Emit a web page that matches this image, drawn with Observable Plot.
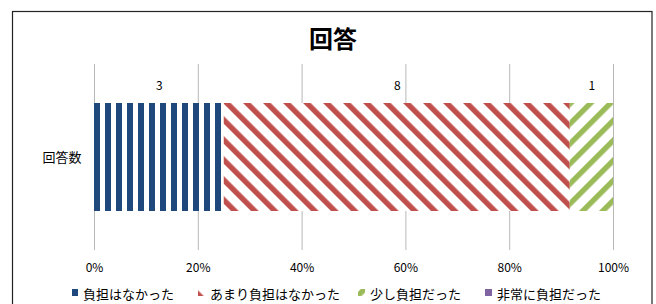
<!DOCTYPE html>
<html><head><meta charset="utf-8">
<script src="https://cdn.jsdelivr.net/npm/d3@7"></script>
<script src="https://cdn.jsdelivr.net/npm/@observablehq/plot@0.6"></script>
<style>
body{margin:0;background:#fff}
#chart{position:relative;width:656px;height:304px;overflow:hidden}
</style>
</head><body><div id="chart"></div>
<script>
const title = "回答";
const rowLabel = "回答数";
const categories = ["負担はなかった", "あまり負担はなかった", "少し負担だった", "非常に負担だった"];
const counts = [3, 8, 1, 0];
const xTicks = [0, 0.2, 0.4, 0.6, 0.8, 1];
const colors = ["#1F497D", "#C0504D", "#9BBB59", "#8064A2"];
const patternIds = ["pat-blue", "pat-red", "pat-green", "pat-purple"];

const FONT = "'Noto Sans CJK JP', 'Noto Sans', sans-serif";
const total = d3.sum(counts);
let acc = 0;
const rows = categories.map((c, i) => {
  const x1 = acc / total;
  acc += counts[i];
  return {category: c, count: counts[i], row: rowLabel, x1, x2: acc / total};
});
const shown = rows.filter(d => d.count > 0);

const plot = Plot.plot({
  width: 656, height: 304,
  marginLeft: 94, marginRight: 43, marginTop: 64, marginBottom: 54,
  style: {fontFamily: FONT, color: "#000", background: "transparent", overflow: "visible"},
  x: {domain: [0, 1], axis: null},
  y: {domain: [rowLabel], padding: 0.265, axis: null},
  color: {domain: categories, range: patternIds.map(id => `url(#${id})`)},
  marks: [
    Plot.gridX(xTicks, {stroke: "#b8b8b8", strokeOpacity: 1, strokeWidth: 1}),
    Plot.axisX({ticks: xTicks, tickSize: 0, tickPadding: 13, tickFormat: d3.format(".0%"), label: null, fontSize: 12, fill: "#000"}),
    Plot.axisY({tickSize: 0, tickPadding: 13, label: null, fontSize: 13, fill: "#000"}),
    Plot.barX(shown, {x1: "x1", x2: "x2", y: "row", fill: "category"}),
    Plot.text(shown, {x: d => (d.x1 + d.x2) / 2, y: "row", text: d => String(d.count), dy: -71, fontSize: 12, fill: "#000"})
  ]
});

const svg = d3.select(plot);
const defs = svg.insert("defs", ":first-child");
// blue vertical stripes
const pb = defs.append("pattern").attr("id", patternIds[0]).attr("patternUnits", "userSpaceOnUse")
  .attr("x", 94).attr("y", 0).attr("width", 11).attr("height", 10);
pb.append("rect").attr("width", 11).attr("height", 10).attr("fill", "#fff");
pb.append("rect").attr("x", 0).attr("width", 6).attr("height", 10).attr("fill", colors[0]);
// red diagonal "\"
const pr = defs.append("pattern").attr("id", patternIds[1]).attr("patternUnits", "userSpaceOnUse")
  .attr("width", 14.142).attr("height", 14.142).attr("patternTransform", "rotate(-45)");
pr.append("rect").attr("width", 14.142).attr("height", 14.142).attr("fill", "#fff");
pr.append("rect").attr("width", 5.4).attr("height", 14.142).attr("fill", colors[1]);
// green diagonal "/"
const pg = defs.append("pattern").attr("id", patternIds[2]).attr("patternUnits", "userSpaceOnUse")
  .attr("x", 7).attr("width", 14.142).attr("height", 14.142).attr("patternTransform", "rotate(45)");
pg.append("rect").attr("width", 14.142).attr("height", 14.142).attr("fill", "#fff");
pg.append("rect").attr("width", 5.4).attr("height", 14.142).attr("fill", colors[2]);
// purple solid
const pp = defs.append("pattern").attr("id", patternIds[3]).attr("patternUnits", "userSpaceOnUse")
  .attr("width", 10).attr("height", 10);
pp.append("rect").attr("width", 10).attr("height", 10).attr("fill", colors[3]);

// outer frame
svg.insert("rect", "defs + *").attr("x", 12.5).attr("y", 11.5).attr("width", 639.5).attr("height", 400)
  .attr("fill", "none").attr("stroke", "#222").attr("stroke-width", 1.2);

// title
svg.append("text").attr("x", 333).attr("y", 37).attr("text-anchor", "middle")
  .attr("dominant-baseline", "central").attr("font-family", FONT).attr("font-weight", "bold")
  .attr("font-size", 24).attr("fill", "#000").text(title);

// legend
const legendX = [71, 198, 358, 485];
const lg = svg.append("g").attr("font-family", FONT).attr("font-size", 13).attr("text-anchor", "start");
categories.forEach((c, i) => {
  lg.append("rect").attr("x", legendX[i]).attr("y", 289).attr("width", 7).attr("height", 7)
    .attr("fill", `url(#${patternIds[i]})`);
  lg.append("text").attr("x", legendX[i] + 12).attr("y", 293.5).attr("dominant-baseline", "central")
    .attr("text-anchor", "start").attr("fill", "#000").text(c);
});

document.getElementById("chart").appendChild(plot);
</script>
</body></html>
